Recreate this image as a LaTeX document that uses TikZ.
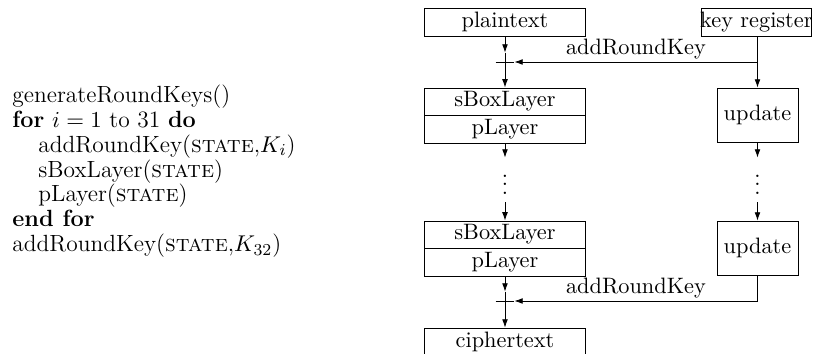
\documentclass[tikz,border=0pt]{standalone}
\usetikzlibrary{arrows.meta,positioning}
\begin{document}
\begin{tikzpicture}[x=0.48pt,y=-0.48pt,
  dfont/.style={font=\fontsize{10.7}{12.8}\selectfont},
  lbox/.style={draw, dfont, minimum width=77.3pt, minimum height=13pt, inner sep=0pt},
  ubox/.style={draw, dfont, minimum width=38.9pt, minimum height=25.9pt, inner sep=0pt},
  xorn/.style={circle, minimum size=8.6pt, inner sep=0pt},
  dotn/.style={dfont, minimum height=21.1pt, inner sep=0pt},
  arr/.style={-{Latex[length=4pt,width=2.8pt]}},
  lbl/.style={dfont, above, inner sep=1pt},
  alg/.style={anchor=base west, inner sep=0pt, font=\fontsize{11.25}{13.5}\selectfont}]
\useasboundingbox (0,0) rectangle (814,354);
% algorithm
\node[alg] (l1) at (12,102.7) {generateRoundKeys()};
\node[alg] (l2) at (12,127.5) {\textbf{for} $i = 1$ to 31 \textbf{do}};
\node[alg] (l3) at (38,152.3) {addRoundKey(\textsc{state},$K_i$)};
\node[alg] (l4) at (38,177.1) {sBoxLayer(\textsc{state})};
\node[alg] (l5) at (38,202) {pLayer(\textsc{state})};
\node[alg] (l6) at (12,226.8) {\textbf{end for}};
\node[alg] (l7) at (12,251.6) {addRoundKey(\textsc{state},$K_{32}$)};
% diagram
\node[lbox, minimum height=13.4pt] (plain) at (505,22) {plaintext};
\node[draw, dfont, minimum width=51.4pt, minimum height=13.4pt, inner ysep=0pt, inner xsep=-0.6pt] (key) at (756.4,22) {key register};
\node[xorn] (x1) at (505,62) {};
\node[lbox] (sbox1) at (505,101.5) {sBoxLayer};
\node[lbox, below=0pt of sbox1] (play1) {pLayer};
\node[ubox] (upd1) at (757.5,115) {update};
\node[dotn] (d1) at (505,180) {\raisebox{1.4pt}{$\vdots$}};
\node[dotn] (e1) at (757.5,180) {\raisebox{1.4pt}{$\vdots$}};
\node[lbox] (sbox2) at (505,234.5) {sBoxLayer};
\node[lbox, below=0pt of sbox2] (play2) {pLayer};
\node[ubox] (upd2) at (757.5,248) {update};
\node[xorn] (x2) at (505,301) {};
\node[lbox, minimum height=13.4pt] (cipher) at (505,342) {ciphertext};
% connectors
\draw[arr] (plain) -- (x1.north);
\draw (x1.north) -- (x1.south);
\draw (x1.west) -- (x1.east);
\draw[arr] (x1.south) -- (sbox1);
\draw[arr] (key.south -| upd1) -- (upd1);
\draw[arr] (upd1 |- x1) -- (x1.east) node[midway, lbl] {addRoundKey};
\draw[arr] (play1) -- (d1);
\draw[arr] (d1) -- (sbox2);
\draw[arr] (upd1) -- (e1);
\draw[arr] (e1) -- (upd2);
\draw[arr] (play2) -- (x2.north);
\draw (x2.north) -- (x2.south);
\draw (x2.west) -- (x2.east);
\draw[arr] (x2.south) -- (cipher);
\draw[arr] (upd2.south) |- (x2.east) node[pos=0.75, lbl] {addRoundKey};
\end{tikzpicture}
\end{document}
